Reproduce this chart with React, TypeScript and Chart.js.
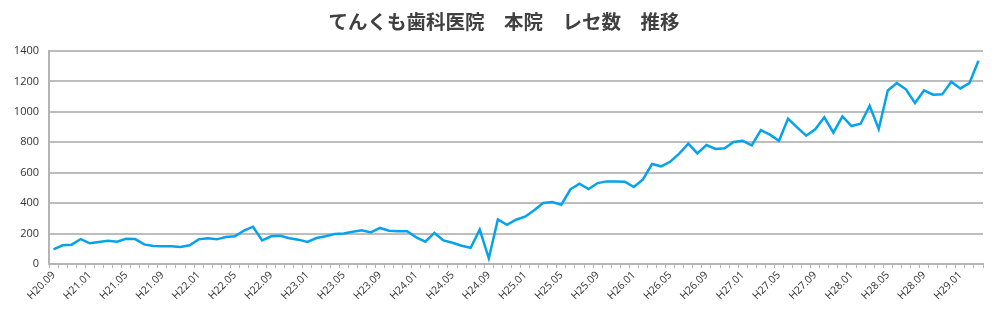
import React, { useEffect, useRef } from "react";
import { Chart, registerables } from "chart.js";

Chart.register(...registerables);

const TITLE = "てんくも歯科医院　本院　レセ数　推移";

// monthly categories H20.09 .. H29.03
const START_YEAR = 20;
const START_MONTH = 9;
const MONTH_COUNT = 103;
const months: string[] = [];
for (let i = 0; i < MONTH_COUNT; i++) {
  const m0 = START_MONTH - 1 + i;
  const y = START_YEAR + Math.floor(m0 / 12);
  const m = (m0 % 12) + 1;
  months.push(`H${y}.${m < 10 ? "0" + m : m}`);
}

const counts2008to2010: number[] = [
  96, 123, 127, 164, 136, 145, 153, 147, 166, 164, 129, 118, 116, 116, 112, 123,
  162, 169, 162, 177, 182, 219, 245, 155, 182, 186, 169, 160, 145, 171, 182, 197,
];
const counts2011to2014: number[] = [
  201, 212, 221, 208, 237, 219, 215, 215, 175, 147, 204, 155, 140, 120, 107, 226,
  37, 293, 258, 291, 311, 353, 401, 407, 390, 491, 528, 493, 532, 543, 543, 541,
  506, 556, 657,
];
const counts2014to2017: number[] = [
  642, 672, 725, 791, 727, 782, 756, 760, 802, 810, 780, 880, 850, 810, 955, 898,
  843, 885, 964, 863, 970, 907, 922, 1040, 887, 1141, 1189, 1148, 1058, 1141, 1113,
  1115, 1198, 1154, 1189, 1336,
];
const receiptCounts: number[] = [
  ...counts2008to2010,
  ...counts2011to2014,
  ...counts2014to2017,
];

const yTicks: number[] = [0, 200, 400, 600, 800, 1000, 1200, 1400];

export default function App() {
  const ref = useRef<HTMLCanvasElement | null>(null);

  useEffect(() => {
    document.body.style.margin = "0";
    const canvas = ref.current;
    if (!canvas) return;

    const titlePlugin = {
      id: "customTitle",
      afterDraw(chart: any) {
        const ctx = chart.ctx;
        ctx.save();
        ctx.font = "bold 19.5px 'Noto Sans CJK JP'";
        ctx.fillStyle = "#404040";
        ctx.textAlign = "center";
        ctx.textBaseline = "middle";
        ctx.fillText(TITLE, 504, 22);
        ctx.restore();
      },
    };

    const chart = new Chart(canvas, {
      type: "line",
      data: {
        labels: months,
        datasets: [
          {
            data: receiptCounts,
            borderColor: "#06a3ea",
            borderWidth: 2.5,
            pointRadius: 0,
            tension: 0,
            fill: false,
          },
        ],
      },
      options: {
        animation: false,
        responsive: false,
        events: [],
        layout: { padding: { top: 51, left: 0, right: 17, bottom: 0 } },
        plugins: {
          legend: { display: false },
          title: { display: false },
          tooltip: { enabled: false },
        },
        scales: {
          x: {
            type: "category",
            offset: true,
            grid: {
              offset: true,
              drawOnChartArea: false,
              drawTicks: true,
              tickLength: 4,
              color: "#b4b4b4",
              lineWidth: 1,
            },
            border: { display: true, color: "#b4b4b4", width: 2 },
            ticks: {
              autoSkip: false,
              maxRotation: 45,
              minRotation: 45,
              padding: 1,
              color: "#333333",
              font: { family: "'Open Sans'", size: 10.5 },
              callback: (_v: any, i: number) => (i % 4 === 0 ? months[i] : ""),
            },
            afterFit: (s: any) => {
              s.height = 56;
            },
          },
          y: {
            min: 0,
            max: 1400,
            afterBuildTicks: (s: any) => {
              s.ticks = yTicks.map((v) => ({ value: v }));
            },
            grid: {
              color: "#bdbdbd",
              lineWidth: 2,
              drawTicks: false,
            },
            border: { display: true, color: "#b4b4b4", width: 2 },
            ticks: {
              padding: 10,
              color: "#333333",
              font: { family: "'Open Sans'", size: 11 },
              callback: (v: any) => String(v),
            },
            afterFit: (s: any) => {
              s.width = 49;
            },
          },
        },
      },
      plugins: [titlePlugin],
    });
    return () => chart.destroy();
  }, []);

  return (
    <div style={{ width: 1000, height: 320 }}>
      <canvas ref={ref} width={1000} height={320} style={{ display: "block" }} />
    </div>
  );
}
